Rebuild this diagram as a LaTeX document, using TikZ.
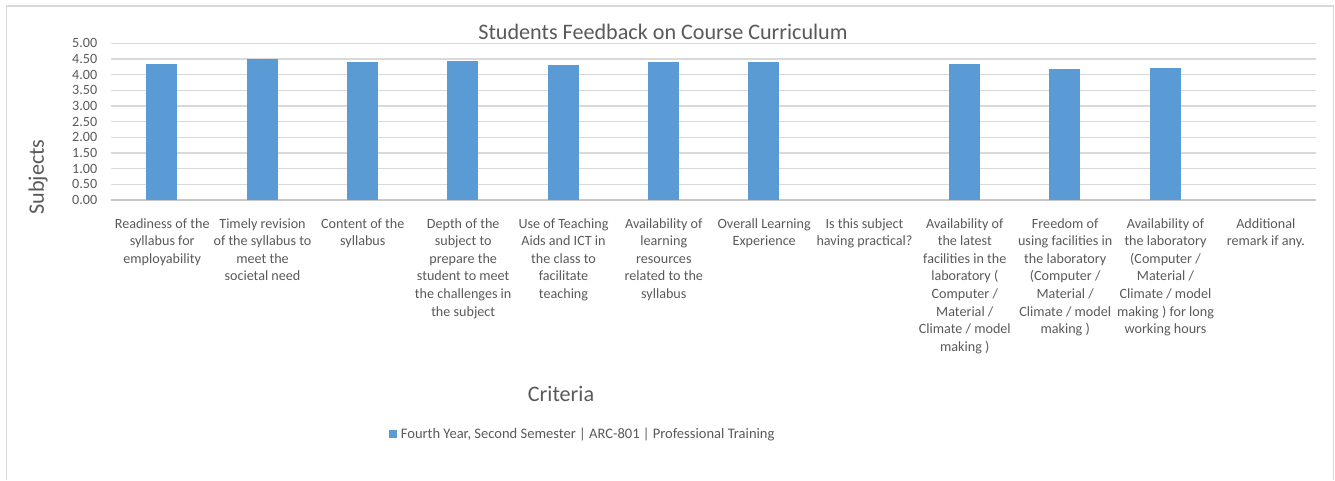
\documentclass[tikz,border=0pt]{standalone}
\usepackage{fontspec}
\setmainfont{Carlito}
\usetikzlibrary{positioning}
\definecolor{barblue}{HTML}{5B9BD5}
\definecolor{labelgray}{HTML}{595959}
\definecolor{gridgray}{HTML}{D9D9D9}
\definecolor{axisgray}{HTML}{C8C8C8}
\newcommand{\catfont}{\fontsize{10.6}{13.2}\selectfont}
\newcommand{\legfont}{\fontsize{10.9}{13.2}\selectfont}
\newcommand{\bigfont}{\fontsize{16.6}{20}\selectfont}
\tikzstyle{every node}=[text=labelgray,inner sep=0pt]
\tikzstyle{crit}=[anchor=north,align=center,font=\catfont]
\tikzstyle{tick}=[anchor=east,font=\catfont]
\tikzstyle{gridline}=[draw=gridgray,line width=0.9pt]
\tikzstyle{bar}=[fill=barblue]

\begin{document}
\begin{tikzpicture}[x=0.75pt,y=-0.75pt]
  \useasboundingbox (0,0) rectangle (1335,480);
  % chart frame, open at the bottom
  \draw[gridgray,line width=1.1pt] (6.5,480) -- (6.5,6) -- (1333.5,6) -- (1333.5,480);

  \node[font=\bigfont] (title) at (663,32) {Students Feedback on Course Curriculum};

  % value axis
  \foreach \v in {0.5,1.0,...,5.0}
    \draw[gridline] (111,{200-\v*31.33}) -- (1316,{200-\v*31.33});
  \draw[axisgray,line width=1.4pt] (111,200) -- (1316,200);
  \foreach \v/\t in {0/0.00,0.5/0.50,1/1.00,1.5/1.50,2/2.00,2.5/2.50,3/3.00,3.5/3.50,4/4.00,4.5/4.50,5/5.00}
    \node[tick] at (97.5,{200-\v*31.33}) {\t};
  \node[font=\bigfont,rotate=90] (ylabel) at (38,177) {Subjects};

  % bars
  \foreach \i/\v in {1/4.34,2/4.49,3/4.40,4/4.44,5/4.31,6/4.40,7/4.40,9/4.34,10/4.18,11/4.21}
    \fill[bar] ({111.7+100.33*(\i-0.5)-15.5},200) rectangle ++(31,{-\v*31.33});

  % criteria
  \node[crit] (c1) at (162.2,218) {Readiness of the\\syllabus for\\employability};
  \node[crit] (c2) at (262.5,218) {Timely revision\\of the syllabus to\\meet the\\societal need};
  \node[crit] (c3) at (362.8,218) {Content of the\\syllabus};
  \node[crit] (c4) at (463.2,218) {Depth of the\\subject to\\prepare the\\student to meet\\the challenges in\\the subject};
  \node[crit] (c5) at (563.5,218) {Use of Teaching\\Aids and ICT in\\the class to\\facilitate\\teaching};
  \node[crit] (c6) at (663.8,218) {Availability of\\learning\\resources\\related to the\\syllabus};
  \node[crit] (c7) at (764.2,218) {Overall Learning\\Experience};
  \node[crit] (c8) at (864.5,218) {Is this subject\\having practical?};
  \node[crit] (c9) at (964.8,218) {Availability of\\the latest\\facilities in the\\laboratory (\\Computer /\\Material /\\Climate / model\\making )};
  \node[crit] (c10) at (1065.2,218) {Freedom of\\using facilities in\\the laboratory\\(Computer /\\Material /\\Climate / model\\making )};
  \node[crit] (c11) at (1165.5,218) {Availability of\\the laboratory\\(Computer /\\Material /\\Climate / model\\making ) for long\\working hours};
  \node[crit] (c12) at (1265.8,218) {Additional\\remark if any.};

  \node[font=\bigfont] (xlabel) at (561,394) {Criteria};

  % legend
  \node[fill=barblue,minimum size=6pt] (legsq) at (393,434) {};
  \node[right=2.5pt of legsq,font=\legfont] (legtxt) {Fourth Year, Second Semester | ARC-801 | Professional Training};
\end{tikzpicture}
\end{document}
